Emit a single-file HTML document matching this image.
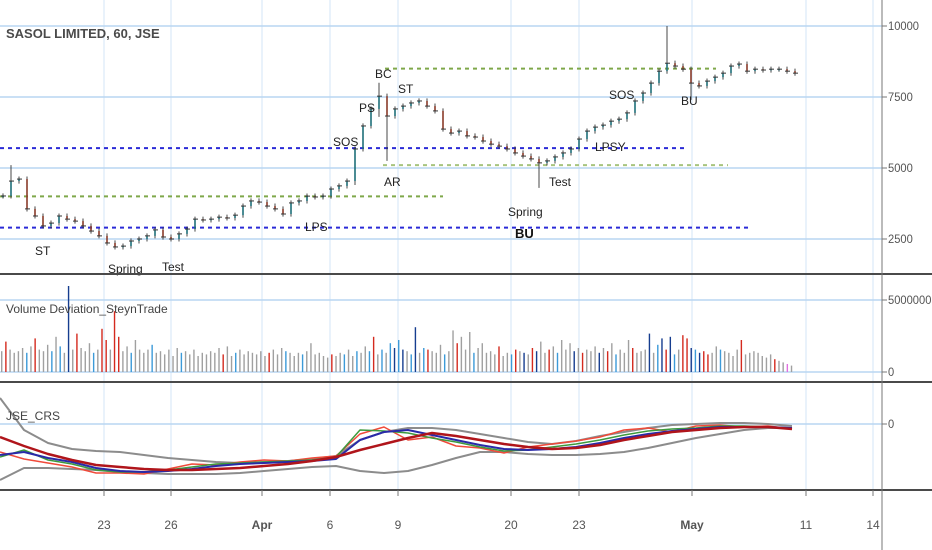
<!DOCTYPE html>
<html><head><meta charset="utf-8"><style>
html,body{margin:0;padding:0;background:#fff;width:932px;height:550px;overflow:hidden}
svg{display:block;font-family:"Liberation Sans",sans-serif}
</style></head><body>
<svg id="c" width="932" height="550" xmlns="http://www.w3.org/2000/svg"></svg>
<script>
// ---- data ----
const closes = [4015,4540,4610,3560,3310,2960,3060,3310,3200,3130,2960,2780,2610,2360,2220,2250,2430,2500,2610,2820,2570,2500,2680,2850,3200,3170,3200,3270,3240,3340,3660,3840,3800,3660,3560,3380,3770,3840,4010,3980,4010,4260,4370,4540,5670,6480,7080,7530,6830,7080,7180,7290,7360,7180,7010,6370,6230,6300,6130,6090,5950,5840,5770,5670,5530,5420,5320,5180,5250,5390,5530,5670,6020,6300,6440,6510,6650,6720,6940,7360,7640,7990,8410,8690,8590,8480,7990,7890,8060,8200,8340,8590,8660,8410,8480,8450,8480,8480,8410,8340];
const wickIdx = [1,44,47,48,67,83,86];
const wickHigh = [5100,5700,8000,7500,5400,10000,8400];
const wickLow = [4400,4400,6800,5250,4300,8500,7400];
const priceTicks = [10000,7500,5000,2500];
const volumes = [13,19,14,12,13,15,12,16,21,14,13,17,13,22,16,12,60,14,24,15,13,18,12,14,27,20,14,38,22,13,16,12,20,14,12,14,17,12,13,11,14,10,15,12,13,11,14,10,12,11,13,12,15,11,16,10,12,14,11,13,12,11,13,10,12,14,11,15,13,12,10,12,11,13,18,11,12,10,9,11,10,12,11,14,10,13,12,16,13,22,11,14,12,18,15,20,14,13,11,28,12,15,14,13,12,17,11,13,26,18,22,14,25,12,15,18,12,13,11,16,10,12,11,14,13,12,11,15,13,19,12,14,16,12,20,14,18,13,15,12,14,13,16,12,15,13,18,11,14,12,20,15,12,13,14,24,12,17,21,14,22,11,14,23,21,15,14,12,13,11,12,16,14,13,12,10,14,20,11,12,13,12,10,9,11,8,7,6,5,4];
const volColors = ("grggggbgrg"+"ggbgbgdgrg"+"ggbgrrgrrg"+"gbggggbggg"+"gggbgggggg"+"gggrggbggg"+"ggggrgggbg"+"ggbggggggr"+"ggbggbggbr"+"gbgbdbdgbd"+"gbrgggbggr"+"gggbgggggr"+"ggbrgdgrdg"+"grgbgggdgr"+"gggdgrgbgg"+"grgggdgbdr"+"dbgrrdbdrr"+"ggbggggrgg"+"gggggrggpg"+"gggggpgggp").split("");
const slowMA = [-1.3,-2.2,-3.0,-3.6,-4.1,-4.3,-4.5,-4.6,-4.6,-4.5,-4.4,-4.2,-4.0,-3.7,-3.3,-2.6,-2.0,-1.4,-0.9,-1.2,-1.6,-2.0,-2.3,-2.5,-2.4,-2.1,-1.6,-1.2,-0.8,-0.6,-0.4,-0.3,-0.3,-0.5];
const blueMA = [-3.1,-2.8,-3.4,-3.8,-4.4,-4.7,-4.8,-4.7,-4.5,-4.2,-4.0,-3.9,-3.8,-3.7,-3.5,-1.6,-0.8,-0.6,-1.1,-1.6,-2.1,-2.5,-2.6,-2.5,-2.3,-1.9,-1.4,-1.0,-0.7,-0.5,-0.3,-0.3,-0.3,-0.4];
const greenMA = [-3.3,-2.6,-3.6,-4.0,-4.6,-4.8,-4.8,-4.6,-4.3,-4.0,-3.9,-3.8,-3.7,-3.6,-3.3,-0.6,-0.7,-0.9,-1.4,-1.8,-2.3,-2.7,-2.6,-2.3,-2.0,-1.6,-1.1,-0.7,-0.5,-0.4,-0.2,-0.2,-0.3,-0.4];
const crsRaw = [-2.8,-3.5,-3.9,-4.3,-4.9,-4.9,-5.0,-4.5,-4.0,-4.1,-3.8,-3.6,-3.7,-3.4,-3.2,-1.0,-0.3,-1.6,-1.3,-2.2,-2.4,-2.9,-2.3,-2.0,-1.7,-1.3,-0.6,-0.4,-0.8,-0.2,-0.1,-0.3,-0.2,-0.5];
const bandUpper = [2.6,-0.6,-1.9,-2.5,-2.7,-2.8,-3.1,-3.4,-3.6,-3.8,-3.9,-3.8,-3.7,-3.5,-3.2,-1.6,-0.8,-0.4,-0.4,-0.6,-1.0,-1.4,-1.8,-2.0,-1.7,-1.2,-0.8,-0.4,-0.1,0.0,0.1,0.1,0.0,-0.2];
const bandLower = [-5.6,-4.4,-4.4,-4.5,-4.6,-4.8,-4.9,-5.0,-5.0,-5.0,-4.9,-4.7,-4.5,-4.3,-4.2,-4.7,-4.9,-4.7,-4.1,-3.4,-2.8,-2.8,-3.0,-3.1,-3.1,-3.0,-2.8,-2.4,-1.9,-1.4,-1.0,-0.6,-0.4,-0.4];
const timeLabels = ["23","26","Apr","6","9","20","23","May","11","14"];
const timePos = [104,171,262,330,398,511,579,692,806,873];
const timeBold = [0,0,1,0,0,0,0,1,0,0];

// ---- scales ----
const py = p => 26 + (10000 - p) * 71/2500;
const bx = i => 3 + i * 8;
const vy = v => 372 - v * 1.6;   // v in 100k units
const vx = i => 1 + i * (794 / volumes.length);
const iy = v => 424 - v * 10;
const ix = i => i * 24;

const svg = document.getElementById('c');
const NS = 'http://www.w3.org/2000/svg';
function mk(tag, attrs, parent){const e=document.createElementNS(NS,tag);for(const k in attrs)e.setAttribute(k,attrs[k]);(parent||svg).appendChild(e);return e;}

// grids
const grid = mk('g',{});


timePos.forEach(x=>{ if(x<882){ mk('line',{x1:x,y1:0,x2:x,y2:490,stroke:'#d3e4f7','stroke-width':1},grid);} });
priceTicks.forEach(p=>mk('line',{x1:0,y1:py(p),x2:882,y2:py(p),stroke:'#b9d6f2','stroke-width':1.5},grid));
[0,50].forEach(v=>mk('line',{x1:0,y1:vy(v*0.9),x2:882,y2:vy(v*0.9),stroke:'#b9d6f2','stroke-width':1.5},grid));
mk('line',{x1:0,y1:iy(0),x2:882,y2:iy(0),stroke:'#b9d6f2','stroke-width':1.5},grid);

// level lines
const lv = mk('g',{});


const levels=[[0,686,5700,'#2b2bd6'],[0,748,2900,'#2b2bd6'],[0,443,4000,'#7fa84a'],[385,716,8500,'#7fa84a'],[383,728,5100,'#a7c47e']];
levels.forEach(l=>mk('line',{x1:l[0],x2:l[1],y1:py(l[2]),y2:py(l[2]),stroke:l[3],'stroke-width':2,'stroke-dasharray':'4 4'},lv));

// candles
const cg = mk('g',{});


closes.forEach((c,i)=>{
  const o = i>0 ? closes[i-1] : c;
  let hi=Math.max(o,c)+90, lo=Math.min(o,c)-90;
  const w = wickIdx.indexOf(i);
  if(w>=0){hi=Math.max(hi,wickHigh[w]);lo=Math.min(lo,wickLow[w]);}
  const x=bx(i);
  const col = c>=o ? '#1f6f7a' : '#8a3b2a';
  mk('line',{x1:x,x2:x,y1:py(hi),y2:py(lo),stroke:'#333','stroke-width':0.9},cg);
  mk('rect',{x:x-0.8,y:Math.min(py(o),py(c)),width:1.6,height:Math.max(1.2,Math.abs(py(o)-py(c))),fill:col},cg);
  mk('line',{x1:x-2,x2:x+3,y1:py(c),y2:py(c),stroke:'#333','stroke-width':1},cg);
});

// annotation labels
const ann=[["ST",35,255],["Spring",108,273],["Test",162,271],["LPS",305,231],["SOS",333,146],["PS",359,112],["BC",375,78],["ST",398,93],["AR",384,186],["Spring",508,216],["Test",549,186],["LPSY",595,151],["SOS",609,99],["BU",681,105]];
ann.forEach(a=>{const t=mk('text',{x:a[1],y:a[2],'font-size':12,fill:'#222'});t.textContent=a[0];

});
const bu=mk('text',{x:515,y:238,'font-size':13,'font-weight':'bold',fill:'#111'});bu.textContent='BU';



const title=mk('text',{x:6,y:38,'font-size':13,'font-weight':'bold',fill:'#4a4a4a'});
title.textContent='SASOL LIMITED, 60, JSE';



// volume
const vg=mk('g',{});


const cmap={g:'#a0a0a0',r:'#d42a1e',b:'#3c9ad8',d:'#163d8f',p:'#e070e0'};
volumes.forEach((v,i)=>{mk('rect',{x:vx(i),y:Math.max(286,vy(v)),width:1.4,height:372-Math.max(286,vy(v)),fill:cmap[volColors[i]]||'#a0a0a0'},vg);});
const vt=mk('text',{x:6,y:313,'font-size':12,fill:'#444'});vt.textContent='Volume Deviation_SteynTrade';



// indicator
const ig=mk('g',{});


function line(arr,col,w,name){const p=mk('polyline',{points:arr.map((v,i)=>ix(i)+','+iy(v)).join(' '),fill:'none',stroke:col,'stroke-width':w,'stroke-linejoin':'round'},ig);

}
line(bandUpper,'#8c8c8c',2,'band-upper');
line(bandLower,'#8c8c8c',2,'band-lower');
line(crsRaw,'#f04a3a',1.5,'crs-line');
line(greenMA,'#3d9a3d',1.5,'fast-ma');
line(blueMA,'#2a2aa8',2,'mid-ma');
line(slowMA,'#b0151b',2.5,'slow-ma');
const it=mk('text',{x:6,y:420,'font-size':12,fill:'#444'});it.textContent='JSE_CRS';



// pane separators & axis
[274,382,490].forEach(y=>mk('line',{x1:0,x2:932,y1:y,y2:y,stroke:'#4a4a4a','stroke-width':2}));
mk('line',{x1:882,x2:882,y1:0,y2:550,stroke:'#777','stroke-width':1});

const ax=mk('g',{});


function ylab(y,txt){mk('line',{x1:882,x2:887,y1:y,y2:y,stroke:'#777'},ax);const t=mk('text',{x:888,y:y+4,'font-size':12,fill:'#555',textLength:txt.length*6.2,lengthAdjust:'spacingAndGlyphs'},ax);t.textContent=txt;}
priceTicks.forEach(p=>ylab(py(p),String(p)));
ylab(vy(45),'5000000');ylab(vy(0),'0');ylab(iy(0),'0');

const tx=mk('g',{});


timeLabels.forEach((l,i)=>{const x=timePos[i];mk('line',{x1:x,x2:x,y1:490,y2:496,stroke:'#777'},tx);
const t=mk('text',{x:x,y:529,'font-size':12,fill:'#555','text-anchor':'middle','font-weight':timeBold[i]?'bold':'normal'},tx);t.textContent=l;});
</script>
</body></html>
